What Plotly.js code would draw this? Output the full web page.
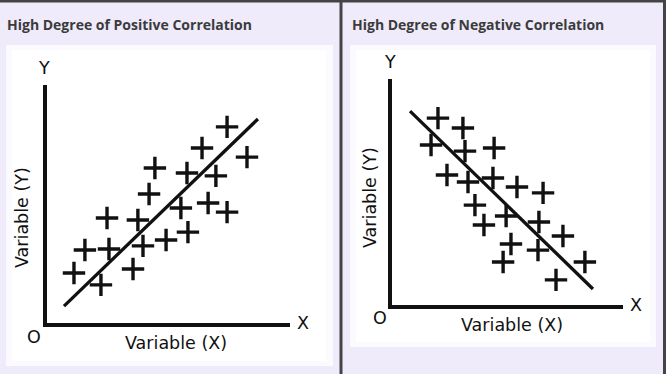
<!DOCTYPE html>
<html>
<head>
<meta charset="utf-8">
<script src="https://cdn.plot.ly/plotly-3.0.1.min.js"></script>
<style>html,body{margin:0;padding:0;background:#efebfb;}#chart{width:666px;height:374px;}</style>
</head>
<body>
<div id="chart"></div>
<script>
// ---- Data (axis units 0..10) ----
const posTitle = "High Degree of Positive Correlation";
const negTitle = "High Degree of Negative Correlation";
const posX = [7.41, 6.38, 8.23, 4.44, 5.76, 6.95, 4.20, 5.51, 6.63, 7.41, 2.47, 3.74, 1.56, 2.55, 3.95, 4.90, 5.80, 1.11, 2.22, 3.54];
const posY = [8.24, 7.35, 6.97, 6.51, 6.30, 6.18, 5.42, 4.83, 5.04, 4.66, 4.41, 4.33, 3.07, 3.11, 3.24, 3.49, 3.82, 2.10, 1.60, 2.27];
const posLineX = [0.70, 8.68];
const posLineY = [0.71, 8.57];
const negX = [1.99, 3.07, 1.69, 3.16, 4.42, 2.38, 3.29, 4.37, 5.41, 6.54, 3.59, 3.98, 4.94, 6.36, 7.40, 5.15, 6.32, 4.81, 8.35, 7.10];
const negY = [8.27, 7.83, 7.08, 6.81, 6.95, 5.75, 5.44, 5.62, 5.22, 4.96, 4.42, 3.54, 3.94, 3.67, 3.05, 2.70, 2.43, 1.90, 1.90, 1.11];
const negLineX = [0.78, 8.70];
const negLineY = [8.58, 0.71];
const axisXLabel = "Variable (X)";
const axisYLabel = "Variable (Y)";

const W = 666, H = 374;
const px = v => v / W;
const py = v => 1 - v / H;
const ink = "#111111";

const mk = {symbol: "cross-thin", size: 16, color: ink, line: {color: ink, width: 3.4}};
const traces = [
  {x: posLineX, y: posLineY, mode: "lines", line: {color: ink, width: 3.3}, xaxis: "x", yaxis: "y", hoverinfo: "skip"},
  {x: posX, y: posY, mode: "markers", marker: mk, xaxis: "x", yaxis: "y"},
  {x: negLineX, y: negLineY, mode: "lines", line: {color: ink, width: 3.3}, xaxis: "x2", yaxis: "y2", hoverinfo: "skip"},
  {x: negX, y: negY, mode: "markers", marker: mk, xaxis: "x2", yaxis: "y2"}
];

const ax = (dom, anchor) => ({domain: dom, anchor: anchor, range: [0, 10], showline: true, linewidth: 3.6, linecolor: ink,
  showgrid: false, zeroline: false, showticklabels: false, ticks: "", fixedrange: true});

const rect = (x0, y0, x1, y1, col) => ({type: "rect", xref: "paper", yref: "paper", x0: px(x0), x1: px(x1), y0: py(y1), y1: py(y0),
  fillcolor: col, line: {width: 0}, layer: "below"});
const line = (x0, y0, x1, y1, w) => ({type: "line", xref: "paper", yref: "paper", x0: px(x0), x1: px(x1), y0: py(y0), y1: py(y1),
  line: {color: "#444444", width: w}, layer: "above"});

const font = {family: "DejaVu Sans, Verdana, sans-serif", size: 17.5, color: ink};
const ann = (text, x, y, opts) => Object.assign({text: text, xref: "paper", yref: "paper", x: px(x), y: py(y), showarrow: false,
  xanchor: "center", yanchor: "middle", font: font}, opts || {});
const tFont = {family: "Open Sans, sans-serif", size: 14, color: "#3b3b3b", weight: 700};

const layout = {
  width: W, height: H, margin: {l: 0, r: 0, t: 0, b: 0},
  paper_bgcolor: "#efebfb", plot_bgcolor: "rgba(0,0,0,0)", showlegend: false,
  xaxis: ax([px(47), px(290)], "y"),
  yaxis: ax([py(323), py(85)], "x"),
  xaxis2: ax([px(392), px(623)], "y2"),
  yaxis2: ax([py(305), py(79)], "x2"),
  shapes: [
    rect(6, 45, 333, 366, "#fbfaff"),
    rect(12, 50, 326, 361, "#ffffff"),
    rect(350, 45, 656, 347, "#fbfaff"),
    rect(356, 50, 650, 342, "#ffffff"),
    line(0, 1, 666, 1, 3),
    line(341, 0, 341, 374, 3),
    line(664.5, 0, 664.5, 374, 3)
  ],
  annotations: [
    ann(posTitle, 5, 24, {xanchor: "left", font: tFont}),
    ann(negTitle, 350, 24, {xanchor: "left", font: tFont}),
    ann("Y", 44, 68),
    ann("X", 303, 323),
    ann("O", 34, 337),
    ann(axisXLabel, 176, 343),
    ann(axisYLabel, 22, 218, {textangle: -90}),
    ann("Y", 390, 62),
    ann("X", 636, 305),
    ann("O", 380, 318),
    ann(axisXLabel, 512, 325),
    ann(axisYLabel, 370, 198, {textangle: -90})
  ]
};
Plotly.newPlot("chart", traces, layout, {staticPlot: true, displayModeBar: false});
</script>
</body>
</html>
